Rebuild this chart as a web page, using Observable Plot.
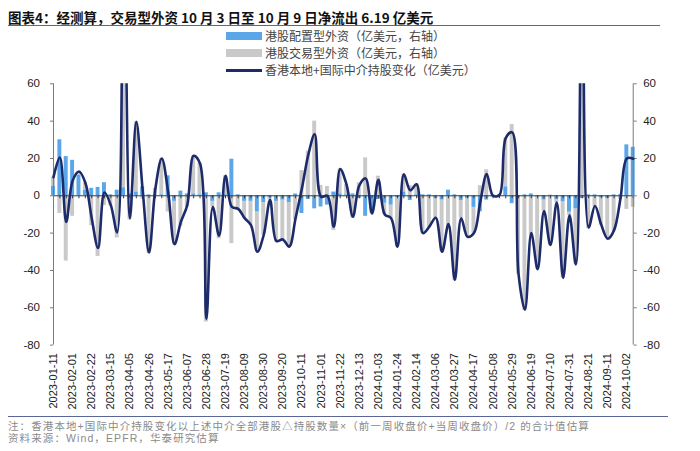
<!DOCTYPE html>
<html><head><meta charset="utf-8">
<script src="https://cdn.jsdelivr.net/npm/d3@7"></script>
<script src="https://cdn.jsdelivr.net/npm/@observablehq/plot@0.6"></script>
<style>
body{margin:0;background:#fff;}
#wrap{position:relative;width:700px;height:451px;overflow:hidden;font-family:"Noto Sans CJK SC","Noto Sans",sans-serif;}
#chart svg{position:absolute;left:0;top:0;}
.abs{position:absolute;white-space:nowrap;}
.note{position:absolute;left:8px;white-space:nowrap;height:11.5px;line-height:11.5px;font-family:"Liberation Sans","Noto Sans CJK SC",sans-serif;font-size:10.5px;letter-spacing:1.1px;color:#8a8a8a;}
</style></head><body>
<div id="wrap">
  <div id="chart"></div>
  <div class="abs" style="left:8px;top:7px;height:20px;line-height:20px;font-size:13.5px;font-weight:700;color:#111;">图表4：经测算，交易型外资 10 月 3 日至 10 月 9 日净流出 6.19 亿美元</div>
  <div class="abs" style="left:8px;top:25px;width:652px;height:1px;background:#5a6796;"></div>
  <div class="abs" style="left:226px;top:32px;width:36px;height:8px;background:#5ba6e8;"></div>
  <div class="abs" style="left:265px;top:27px;height:18px;line-height:18px;font-size:12px;color:#444;">港股配置型外资（亿美元，右轴）</div>
  <div class="abs" style="left:226px;top:49px;width:36px;height:8px;background:#c9c9c9;"></div>
  <div class="abs" style="left:265px;top:44px;height:18px;line-height:18px;font-size:12px;color:#444;">港股交易型外资（亿美元，右轴）</div>
  <div class="abs" style="left:226px;top:69px;width:36px;height:2.6px;background:#1d2b6b;"></div>
  <div class="abs" style="left:265px;top:61px;height:18px;line-height:18px;font-size:12px;color:#444;">香港本地+国际中介持股变化（亿美元）</div>
  <div class="abs" style="left:8px;top:416px;width:660px;height:1px;background:#5a6796;"></div>
  <div class="note" style="top:420.5px;">注：香港本地+国际中介持股变化以上述中介全部港股△持股数量×（前一周收盘价+当周收盘价）/2 的合计值估算</div>
  <div class="note" style="top:432.5px;">资料来源：Wind，EPFR，华泰研究估算</div>
</div>
<script>
const weeks = ["2023-01-11","2023-01-18","2023-01-25","2023-02-01","2023-02-08","2023-02-15","2023-02-22","2023-03-01","2023-03-08","2023-03-15","2023-03-22","2023-03-29","2023-04-05","2023-04-12","2023-04-19","2023-04-26","2023-05-03","2023-05-10","2023-05-17","2023-05-24","2023-05-31","2023-06-07","2023-06-14","2023-06-21","2023-06-28","2023-07-05","2023-07-12","2023-07-19","2023-07-26","2023-08-02","2023-08-09","2023-08-16","2023-08-23","2023-08-30","2023-09-06","2023-09-13","2023-09-20","2023-09-27","2023-10-04","2023-10-11","2023-10-18","2023-10-25","2023-11-01","2023-11-08","2023-11-15","2023-11-22","2023-11-29","2023-12-06","2023-12-13","2023-12-20","2023-12-27","2024-01-03","2024-01-10","2024-01-17","2024-01-24","2024-01-31","2024-02-07","2024-02-14","2024-02-21","2024-02-28","2024-03-06","2024-03-13","2024-03-20","2024-03-27","2024-04-03","2024-04-10","2024-04-17","2024-04-24","2024-05-01","2024-05-08","2024-05-15","2024-05-22","2024-05-29","2024-06-05","2024-06-12","2024-06-19","2024-06-26","2024-07-03","2024-07-10","2024-07-17","2024-07-24","2024-07-31","2024-08-07","2024-08-14","2024-08-21","2024-08-28","2024-09-04","2024-09-11","2024-09-18","2024-09-25","2024-10-02","2024-10-09"];
const tickLabels = ["2023-01-11","2023-02-01","2023-02-22","2023-03-15","2023-04-05","2023-04-26","2023-05-17","2023-06-07","2023-06-28","2023-07-19","2023-08-09","2023-08-30","2023-09-20","2023-10-11","2023-11-01","2023-11-22","2023-12-13","2024-01-03","2024-01-24","2024-02-14","2024-03-06","2024-03-27","2024-04-17","2024-05-08","2024-05-29","2024-06-19","2024-07-10","2024-07-31","2024-08-21","2024-09-11","2024-10-02"];
// 香港本地+国际中介持股变化（亿美元）
const holdingChange = [10,20.5,-14,8,13,7,-12,-28,1.8,-5, -19.6,150,-12,39.6,3,-30.4,4,20,2,-26, -14,-5,21.4,17.3,-66,-6,-21.4,10.7,-6,-7, -12,-15.7,-30,-21,-2.3,-24.3,-23.4,-27.3,-12,4, 22,33,-0.5,0,-16.6,14.3,6,-11.2,5.5,9.3, -9.5,8.5,-10,-12,-27.3,11.5,3,6.2,-20,-16.5, -11.8,-30,-15.2,-45,-12,-22,-20,-3.2,11.6,0, 0.4,31,34,-42,-61,-20,-39.3,-8.2,-26.4,-3.6, -44,-10.4,-36.8,150,-17,-5.5,-15.7,-23,-18.4,-1.4, 20,19.8];
// 港股配置型外资（亿美元，右轴）
const allocationFlow = [5,30,21,19,11,3,4,4.5,7,0.5, 3,4.3,1,2,4.8,0.5,0.5,0.5,10.7,-3, 2.5,1,1,0.5,1.6,-3,1.6,0.5,19.6,0.5, -3,-3,-8.6,-3.6,-1,-3,-2.3,-3.6,1,-9.5, -2,-7,-6,-5,2,1,0.5,1,-1.5,-11, -7.7,-2,-4,-5,-1,2,-2.5,0.5,0.5,0.5, -1.6,-2.3,3,0.5,-2.5,-1.4,-6.2,-8.6,-2.3,0.5, 0.5,4.8,-4.2,-1,0.5,1,-0.5,-2.3,0.3,-2, -3.2,-8.8,-7,-1.5,0.5,0.5,-1,-1.5,0.5,0.5, 27.3,26];
// 港股交易型外资（亿美元，右轴）
const tradingFlow = [5,-9.5,-35,-11,2,4,-16,-32.5,-5.2,-5.5, -22.6,145.7,-13,37.6,-1.8,-30.9,3.5,19.5,-8.7,-23, -16.5,-6,20.4,16.8,-67.6,-3,-23,10.2,-25.6,-7.5, -9,-12.7,-21.4,-17.4,-1.3,-21.3,-21.1,-23.7,-13,13.5, 24,40,5.5,5,-18.6,13.3,5.5,-12.2,7,20.3, -1.8,10.5,-6,-7,-26.3,9.5,5.5,5.7,-20.5,-17, -10.2,-27.7,-18.2,-45.5,-9.5,-20.6,-13.8,5.4,13.9,-0.5, -0.1,26.2,38.2,-41,-61.5,-21,-38.8,-5.9,-26.7,-1.6, -40.8,-1.7,-29.8,151.5,-17.5,-6,-14.7,-21.5,-18.9,-1.9, -7.3,-6.19];
const yTicks = [-80,-60,-40,-20,0,20,40,60];
const yDomain = [-80, 60];

const parse = d3.utcParse("%Y-%m-%d");
const dates = weeks.map(parse);
const tickDates = tickLabels.map(parse);
const first = dates[0], last = dates[dates.length - 1];
const lineData = dates.map((d, i) => ({date: d, value: holdingChange[i]}));
// stacked columns (blue at base, grey stacked on top, positive and negative separately)
const blueBars = [], greyBars = [];
dates.forEach((d, i) => {
  const b = allocationFlow[i], g = tradingFlow[i];
  blueBars.push({date: d, y1: 0, y2: b});
  const base = ((g >= 0) === (b >= 0)) ? b : 0;
  greyBars.push({date: d, y1: base, y2: base + g});
});
const halfBarHours = 52;
const x1 = d => d3.utcHour.offset(d.date, -halfBarHours);
const x2 = d => d3.utcHour.offset(d.date, halfBarHours);
const pad = 84; // half a week, in hours

const chart = Plot.plot({
  width: 700,
  height: 451,
  marginTop: 83.3,
  marginBottom: 106.4,
  marginLeft: 49.8,
  marginRight: 64.1,
  x: {type: "utc", domain: [d3.utcHour.offset(first, -pad), d3.utcHour.offset(last, pad)]},
  y: {domain: yDomain},
  style: {fontFamily: "'Liberation Sans', Arial, sans-serif", fontSize: "11px", color: "#222", background: "transparent"},
  marks: [
    Plot.rectY(greyBars, {x1, x2, y1: "y1", y2: "y2", fill: "#c9c9c9", clip: true}),
    Plot.rectY(blueBars, {x1, x2, y1: "y1", y2: "y2", fill: "#5ba6e8", clip: true}),
    Plot.ruleY([0], {x1: () => first, x2: () => last, stroke: "#3a3a3a", strokeWidth: 1}),
    Plot.ruleX(dates, {x: d => d, y1: 0, y2: 0, insetBottom: -3, stroke: "#3a3a3a", strokeWidth: 1}),
    Plot.ruleX([first, last], {x: d => d, y1: () => yDomain[0], y2: () => yDomain[1], stroke: "#7a7a7a", strokeWidth: 1}),
    Plot.axisY({anchor: "left", ticks: yTicks, tickSize: 3, tickPadding: 10.5, dx: 3.2, tickFormat: d => `${d}`, fontSize: 11.5, stroke: "#7a7a7a", fill: "#222"}),
    Plot.axisY({anchor: "right", ticks: yTicks, tickSize: 3, tickPadding: 7, dx: -3.2, tickFormat: d => `${d}`, fontSize: 11.5, stroke: "#7a7a7a", fill: "#222", label: null}),
    Plot.axisX({ticks: tickDates, tickFormat: d3.utcFormat("%Y-%m-%d"), tickSize: 0, tickPadding: 8, tickRotate: -90, fontSize: 11, fill: "#222", label: null}),
    Plot.line(lineData, {x: "date", y: "value", curve: "catmull-rom", stroke: "#1d2b6b", strokeWidth: 2.6, clip: true})
  ]
});
document.getElementById("chart").appendChild(chart);
</script>
</body></html>
